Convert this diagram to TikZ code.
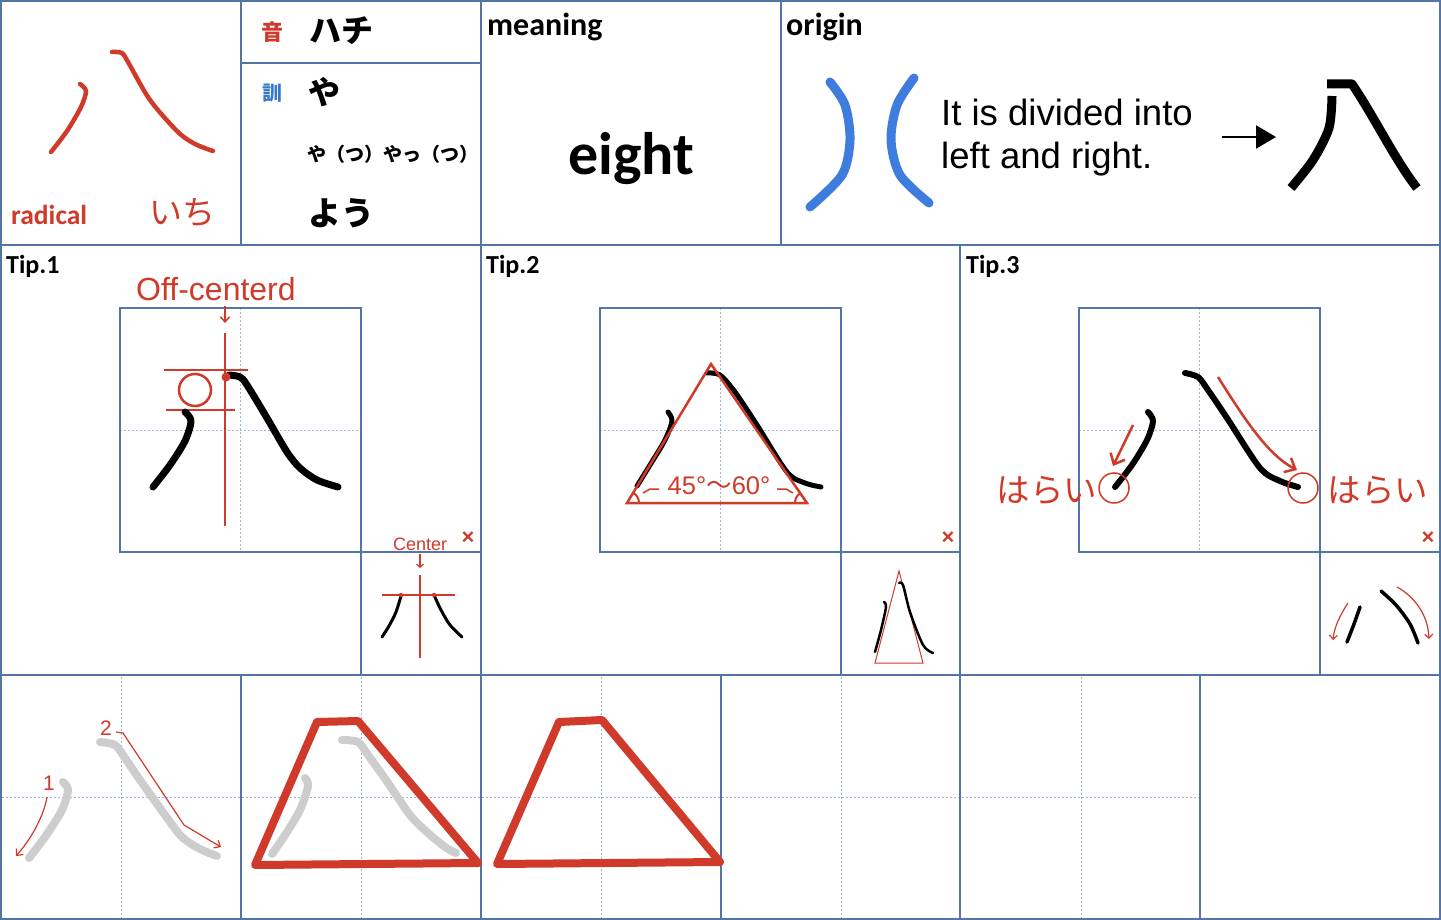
\documentclass[tikz,border=0pt]{standalone}
\usepackage{fontspec}
\usetikzlibrary{arrows.meta}
\newfontfamily\carlito{Carlito}
\newfontfamily\lib{Liberation Sans}
\newfontfamily\jp{Noto Sans CJK JP}
\definecolor{gridc}{RGB}{84,117,165}
\definecolor{guidec}{RGB}{160,182,215}
\definecolor{kred}{RGB}{208,58,42}
\definecolor{kblue}{RGB}{62,125,222}
\definecolor{inkgray}{RGB}{205,205,205}
\definecolor{lblue}{RGB}{55,120,200}
\tikzset{
 gridline/.style={draw=gridc, line width=2pt},
 guide/.style={draw=guidec, line width=1pt, dash pattern=on 2pt off 2pt},
 ink/.style={draw=black, line width=6pt, line cap=round, line join=round},
 redink/.style={draw=kred, line width=4.5pt, line cap=round, line join=round},
 redthin/.style={draw=kred, line width=2pt},
 redthick/.style={draw=kred, line width=8pt, line join=round, line cap=round},
 grayink/.style={draw=inkgray, line width=8pt, line cap=round, line join=round},
 lbl/.style={font=\carlito\bfseries\fontsize{26}{26}\selectfont, anchor=base west, inner sep=0pt},
 jptxt/.style={inner sep=0pt, anchor=center},
 cross/.style={text=kred, inner sep=0pt, font=\lib\bfseries\fontsize{22}{22}\selectfont},
 barb/.style={-{Straight Barb[length=5pt,width=9pt]}},
}
\begin{document}
\begin{tikzpicture}[x=1pt,y=-1pt]
\useasboundingbox (0,0) rectangle (1441,920);
\fill[white] (0,0) rectangle (1441,920);

% ---------- guides ----------
\foreach \cx/\lx in {240.5/120,720.5/600,1199.5/1079} {
  \draw[guide] (\cx,308) -- (\cx,552);
  \draw[guide] (\lx,430) -- (\lx+241,430);
}
\foreach \cx in {121,361,601,841,1081} \draw[guide] (\cx,677) -- (\cx,918);
\draw[guide] (2,797) -- (1200,797);

% ---------- grid ----------
\draw[gridline] (1,1) rectangle (1440,919);
\draw[gridline] (0,245) -- (1441,245);
\draw[gridline] (0,675) -- (1441,675);
\draw[gridline] (241,0) -- (241,245);
\draw[gridline] (481,0) -- (481,920);
\draw[gridline] (781,0) -- (781,245);
\draw[gridline] (241,63) -- (481,63);
\draw[gridline] (960,245) -- (960,920);
\draw[gridline] (241,675) -- (241,920);
\draw[gridline] (721,675) -- (721,920);
\draw[gridline] (1200,675) -- (1200,920);
\foreach \lx/\rx in {120/481,600/960,1079/1441} {
  \draw[gridline] (\lx,308) rectangle (\lx+241,552);
  \draw[gridline] (\lx+241,552) -- (\rx,552);
  \draw[gridline] (\lx+241,552) -- (\lx+241,675);
}

% ---------- top-left cell ----------
\draw[redink] plot[smooth] coordinates {(80,84) (86,91) (81,107) (67,131) (51,152)};
\draw[redink] plot[smooth] coordinates {(112,52) (122,53) (128,62) (150,100) (178,132) (195,144) (213,151)};
\node[lbl, text=kred, font=\carlito\bfseries\fontsize{27.5}{27.5}\selectfont] (rad) at (11,225) {radical};
\node[jptxt, text=kred, font=\jp\fontsize{33}{33}\selectfont] (ichi) at (182,213) {いち};

% ---------- readings ----------
\node[jptxt, text=kred, font=\jp\bfseries\fontsize{22}{22}\selectfont] (on) at (272,32) {音};
\node[jptxt, font=\jp\bfseries\fontsize{32}{32}\selectfont] (hachi) at (341,31) {ハチ};
\node[jptxt, text=lblue, font=\jp\bfseries\fontsize{20}{20}\selectfont] (kun) at (272,93) {訓};
\node[jptxt, font=\jp\bfseries\fontsize{32}{32}\selectfont] (ya) at (324,92) {や};
\node[jptxt, font=\jp\bfseries\fontsize{19}{19}\selectfont] (yatsu) at (393,154) {や（つ）やっ（つ）};
\node[jptxt, font=\jp\bfseries\fontsize{33}{33}\selectfont] (you) at (341,213) {よう};

% ---------- meaning ----------
\node[lbl, font=\carlito\bfseries\fontsize{32}{32}\selectfont] (mean) at (487,36) {meaning};
\node[inner sep=0pt, anchor=base, font=\carlito\bfseries\fontsize{60}{60}\selectfont] (eight) at (631,175) {eight};

% ---------- origin ----------
\node[lbl, font=\carlito\bfseries\fontsize{32}{32}\selectfont] (orig) at (786,36) {origin};
\draw[draw=kblue, line width=9pt, line cap=round] plot[smooth] coordinates {(830,82) (845,105) (850,140) (842,175) (810,207)};
\draw[draw=kblue, line width=9pt, line cap=round] plot[smooth] coordinates {(914,78) (897,105) (891,140) (900,175) (929,203)};
\node[inner sep=0pt, anchor=base west, font=\lib\fontsize{36.5}{36.5}\selectfont] (t1) at (941,126) {It is divided into};
\node[inner sep=0pt, anchor=base west, font=\lib\fontsize{36.5}{36.5}\selectfont] (t2) at (941,169) {left and right.};
\coordinate (arrS) at (1222,137);
\coordinate (arrE) at (1276,137);
\draw[line width=2pt, -{Triangle[length=20pt,width=23pt]}] (arrS) -- (arrE);
\draw[ink, line width=9pt, line cap=butt] (1327,84) -- (1352,84) .. controls (1375,118) and (1395,160) .. (1417,188);
\draw[ink, line width=9pt, line cap=butt] plot[smooth] coordinates {(1332,96) (1329,128) (1313,160) (1291,188)};

% ---------- Tip.1 ----------
\node[lbl] (tip1) at (6,274) {Tip.1};
\node[inner sep=0pt, anchor=base west, text=kred, font=\lib\fontsize{32}{32}\selectfont] (offc) at (136,300) {Off-centerd};
\coordinate (oa1) at (225,306);
\coordinate (oa2) at (225,323);
\draw[redthin, line width=1.5pt, barb] (oa1) -- (oa2);
\draw[redthin, line width=2.5pt] (225,333) -- (225,526);
\draw[redthin, line width=2.5pt] (164,370) -- (248,370);
\draw[redthin, line width=2.5pt] (166,410) -- (235,410);
\draw[redthin, line width=2.5pt] (195,390) circle[radius=16];
\draw[ink, line width=7pt] plot[smooth] coordinates {(185,412) (191,421) (185,441) (170,465) (153,487)};
\draw[ink, line width=7pt] plot[smooth] coordinates {(229,375) (240,377) (247,385) (267,418) (287,452) (300,468) (317,480) (338,487)};
\fill[kred] (226,377) circle[radius=4.5];
\node[cross] (x1) at (468,538) {×};
\node[inner sep=0pt, anchor=base west, text=kred, font=\lib\fontsize{18}{18}\selectfont] (cen) at (393,550) {Center};
\coordinate (ca1) at (420,554);
\coordinate (ca2) at (420,568);
\draw[redthin, line width=1.2pt, -{Straight Barb[length=3pt,width=7pt]}] (ca1) -- (ca2);
\draw[redthin, line width=1.5pt] (420,575) -- (420,658);
\draw[redthin, line width=1.5pt] (382,595) -- (455,595);
\draw[ink, line width=3pt] plot[smooth] coordinates {(401,596) (396,612) (389,626) (382,637)};
\draw[ink, line width=3pt] plot[smooth] coordinates {(434,595) (441,610) (450,625) (462,637)};
\fill[kred] (401,595) circle[radius=2.2];
\fill[kred] (434,595) circle[radius=2.2];

% ---------- Tip.2 ----------
\node[lbl] (tip2) at (486,274) {Tip.2};
\draw[ink, line width=5pt] plot[smooth] coordinates {(668,412) (672,421) (665,440) (650,465) (637,486)};
\draw[ink, line width=5pt] plot[smooth] coordinates {(707,373) (720,375) (735,392) (757,425) (787,472) (805,483) (821,487)};
\draw[redthin, line width=2.5pt, line join=miter] (711,364) -- (807,503) -- (627,503) -- cycle;
\draw[redthin, line width=2pt] (639,503) arc[start angle=0, end angle=-59, radius=12];
\draw[redthin, line width=2pt] (795,503) arc[start angle=180, end angle=235, radius=12];
\draw[redthin, line width=1.5pt] (643,493) -- (650,489) -- (659,489);
\draw[redthin, line width=1.5pt] (777,489) -- (786,489) -- (793,493);
\node[inner sep=0pt, text=kred, font=\lib\fontsize{25.5}{25.5}\selectfont] (ang) at (719,486) {45°{\jp 〜}60°};
\node[cross] (x2) at (948,538) {×};
\draw[redthin, line width=1pt] (899,571) -- (923,663) -- (875,663) -- cycle;
\draw[ink, line width=2.5pt] plot[smooth] coordinates {(884,602) (886,607) (881,630) (875,652)};
\draw[ink, line width=2.5pt] plot[smooth] coordinates {(899,583) (903,585) (910,612) (923,645) (933,653)};

% ---------- Tip.3 ----------
\node[lbl] (tip3) at (966,274) {Tip.3};
\draw[ink] plot[smooth] coordinates {(1148,412) (1153,421) (1147,440) (1132,465) (1115,487)};
\draw[ink] plot[smooth] coordinates {(1185,373) (1198,377) (1208,390) (1227,418) (1260,468) (1280,481) (1298,487)};
\coordinate (la1) at (1133,425);
\coordinate (la2) at (1113,466);
\draw[redthin, line width=2.5pt, -{Straight Barb[length=9pt,width=16pt]}] (la1) -- (la2);
\coordinate (ra1) at (1218,377);
\coordinate (ra2) at (1297,470);
\draw[redthin, line width=2.5pt, -{Straight Barb[length=9pt,width=16pt]}] (ra1) .. controls (1245,420) and (1268,455) .. (ra2);
\draw[redthin, line width=1.5pt] (1114,488) circle[radius=15];
\draw[redthin, line width=1.5pt] (1303,488) circle[radius=15];
\node[jptxt, text=kred, font=\jp\fontsize{33.5}{33.5}\selectfont] (har1) at (1047,490) {はらい};
\node[jptxt, text=kred, font=\jp\fontsize{33.5}{33.5}\selectfont] (har2) at (1378,490) {はらい};
\node[cross] (x3) at (1428,538) {×};
\draw[ink, line width=3.5pt] plot[smooth] coordinates {(1360,607) (1354,624) (1347,642)};
\draw[ink, line width=3.5pt] plot[smooth] coordinates {(1381,591) (1396,605) (1410,624) (1418,643)};
\coordinate (sl1) at (1348,603);
\coordinate (sl2) at (1333,640);
\draw[redthin, line width=1.2pt, -{Straight Barb[length=4pt,width=8pt]}] (sl1) .. controls (1340,615) and (1334,628) .. (sl2);
\coordinate (sr1) at (1397,587);
\coordinate (sr2) at (1429,639);
\draw[redthin, line width=1.2pt, -{Straight Barb[length=4pt,width=8pt]}] (sr1) .. controls (1415,597) and (1428,615) .. (sr2);

% ---------- bottom row ----------
\draw[grayink] plot[smooth] coordinates {(63,782) (68,790) (62,810) (45,837) (29,858)};
\draw[grayink] plot[smooth] coordinates {(100,742) (115,745) (125,758) (140,780) (165,815) (182,837) (200,849) (217,856)};
\node[inner sep=0pt, text=kred, font=\lib\fontsize{21}{21}\selectfont] (n1) at (49,783) {1};
\node[inner sep=0pt, text=kred, font=\lib\fontsize{21}{21}\selectfont] (n2) at (106,728) {2};
\coordinate (b1s) at (47,797);
\coordinate (b1e) at (16,856);
\draw[redthin, line width=1.2pt, -{Straight Barb[length=5pt,width=9pt]}] (b1s) .. controls (44,815) and (32,838) .. (b1e);
\coordinate (b2s) at (116,732);
\coordinate (b2e) at (221,847);
\draw[redthin, line width=1.2pt, -{Straight Barb[length=5pt,width=9pt]}] (b2s) -- (123,733) -- (184,825) -- (b2e);

\draw[grayink] plot[smooth] coordinates {(305,778) (308,786) (300,810) (285,835) (272,854)};
\draw[grayink] plot[smooth] coordinates {(342,740) (358,742) (368,755) (386,780) (410,815) (428,833) (445,847) (456,853)};
\draw[redthick] (317,722) -- (358,721) -- (478,863) -- (255,865) -- cycle;
\draw[redthick] (559,722) -- (602,720) -- (720,862) -- (497,864) -- cycle;
\end{tikzpicture}
\end{document}
